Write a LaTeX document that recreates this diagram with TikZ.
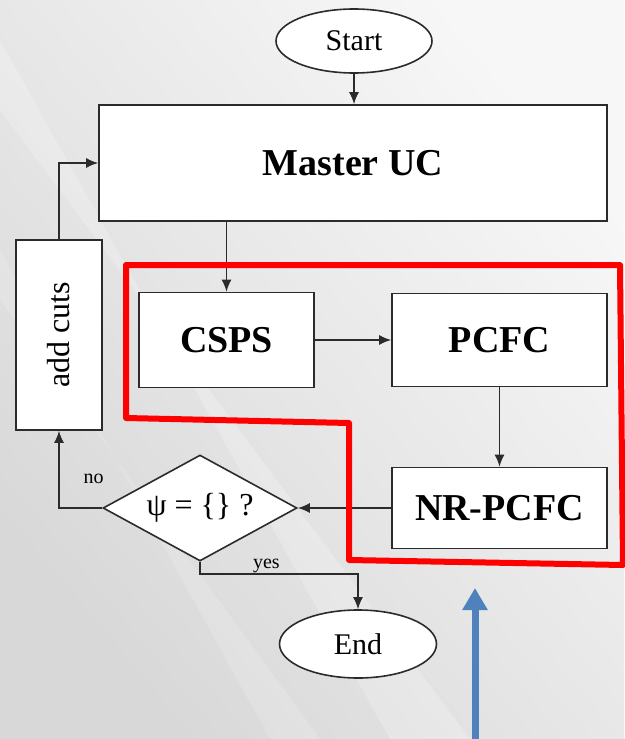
\documentclass[tikz,border=0pt]{standalone}
\usepackage{fontspec}
\setmainfont{Liberation Serif}
\usetikzlibrary{arrows.meta,shapes.geometric,positioning}
\definecolor{ink}{HTML}{2B2B2B}
\definecolor{ptrblue}{HTML}{4F81BD}
\definecolor{bglight}{HTML}{F7F7F7}
\definecolor{bgdark}{HTML}{D8D8D8}

\begin{document}
\begin{tikzpicture}[x=1pt, y=-1pt,
  block/.style={draw=ink, line width=1.6pt, fill=white, inner sep=0pt,
                font=\fontsize{38}{40}\selectfont\bfseries},
  terminal/.style={ellipse, draw=ink, line width=1.6pt, fill=white, inner sep=0pt,
                   font=\fontsize{30}{32}\selectfont},
  decision/.style={diamond, aspect=1.8, draw=ink, line width=1.6pt, fill=white,
                   inner sep=0pt, font=\fontsize{32}{34}\selectfont},
  flow/.style={-{Latex[length=12pt,width=10pt]}, draw=ink, line width=1.6pt},
  lbl/.style={font=\fontsize{20}{22}\selectfont, inner sep=0pt, anchor=base},
]
  \useasboundingbox (0,0) rectangle (624,739);
  % slide background
  \shade[top color=bglight, bottom color=bgdark, shading angle=-50] (0,0) rectangle (624,739);
  \fill[white, opacity=.22] (0,40) -- (0,110) -- (470,739) -- (390,739) -- cycle;
  \fill[white, opacity=.15] (0,250) -- (0,300) -- (320,739) -- (270,739) -- cycle;

  \node[terminal, minimum width=156pt, minimum height=64pt] (start) at (354,41) {Start};
  \node[block, minimum width=508pt, minimum height=116pt] (master) at (353,163) {Master UC};
  \node[block, minimum width=86pt, minimum height=190pt,
        font=\fontsize{32}{34}\selectfont] (cuts) at (59,335) {\rotatebox{90}{add cuts}};
  \node[block, minimum width=175pt, minimum height=95pt] (csps) at (226.5,340) {CSPS};
  \node[block, minimum width=215pt, minimum height=93pt] (pcfc) at (499.5,340) {PCFC};
  \node[block, minimum width=215pt, minimum height=81pt] (nrpcfc) at (499.5,508) {NR-PCFC};
  \node[decision, minimum width=194pt, minimum height=106pt] (check) at (200,508) {ψ = \{\} ?};
  \node[terminal, minimum width=157pt, minimum height=68pt] (stop) at (358,644) {End};

  \draw[flow] (start.south) -- (master.north -| start.south);
  \draw[flow] (master.south -| csps.north) -- (csps.north);
  \draw[flow] (csps) -- (pcfc);
  \draw[flow] (pcfc) -- (nrpcfc);
  \draw[flow] (nrpcfc) -- (check);
  \draw[flow] (check.west) -| node[lbl, pos=0.1, yshift=25pt] {no} (cuts.south);
  \draw[flow] (cuts.north) |- (master.west);
  \draw[flow] (check.south) -- ++(0,12) -| node[lbl, pos=0.21, yshift=5pt] {yes} (stop.north);

  % highlighted part
  \draw[red, line width=6pt, line join=round]
    (126,265) -- (620,265) -- (623,565) -- (349,560) -- (349,423) -- (126,418) -- cycle;

  \coordinate (ptrfoot) at (475,745);
  \coordinate (ptrtip) at (475,588);
  \draw[ptrblue, line width=7pt, -{Triangle[length=22pt,width=24pt]}] (ptrfoot) -- (ptrtip);
\end{tikzpicture}
\end{document}
